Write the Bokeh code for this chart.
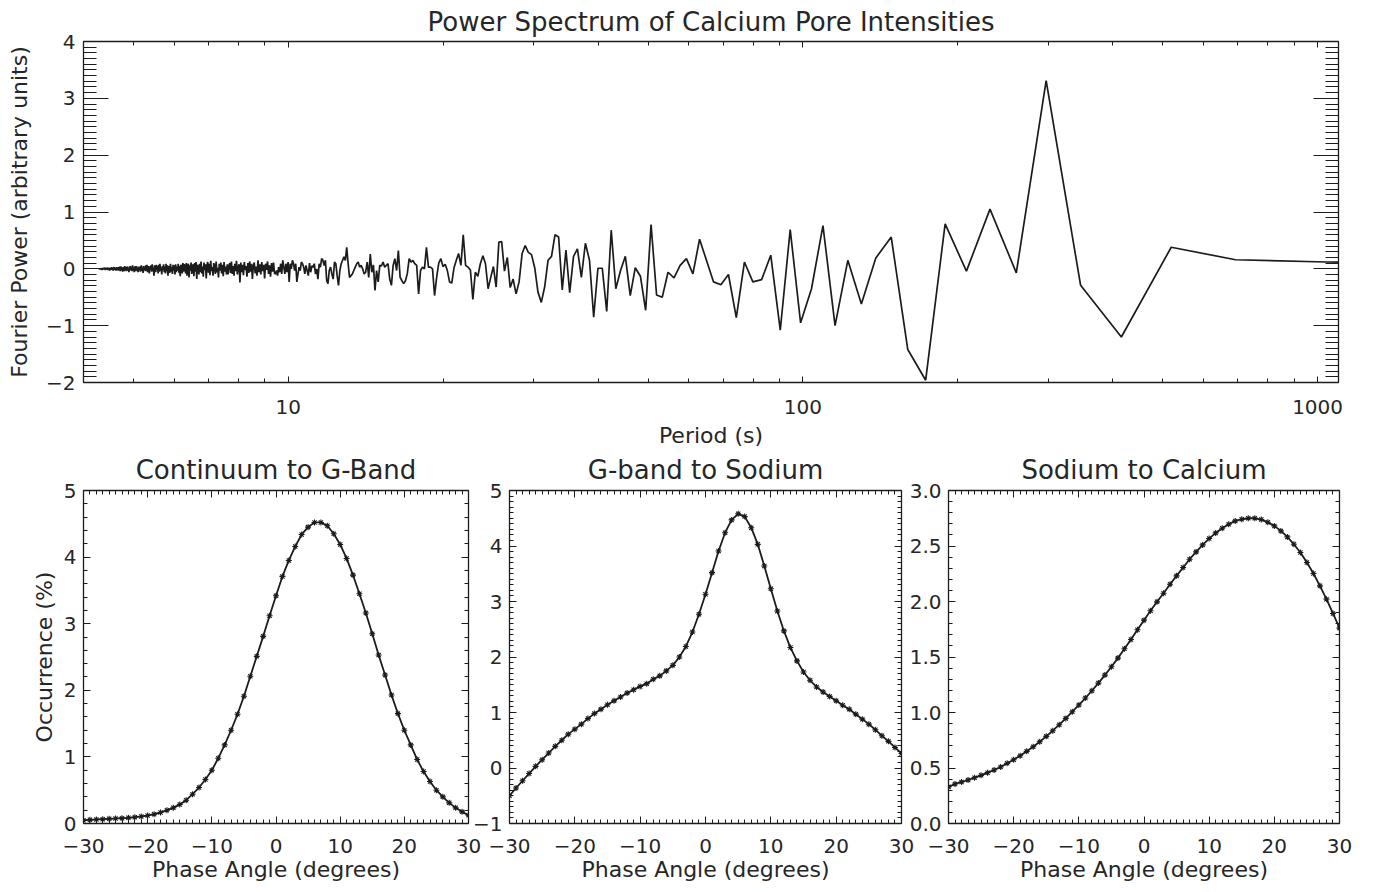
import numpy as np
from bokeh.plotting import figure
from bokeh.layouts import column, row
from bokeh.models import Range1d, FixedTicker, LinearAxis, LogAxis
from bokeh.embed import file_html
from bokeh.resources import INLINE

FONT = "DejaVu Sans"
INK = "#1c1c1c"
TEXT = "#262626"

# ---------------- data: power spectrum ----------------
record_length_s = 2078.0   # length of the time series; periods are record_length / frequency index

# Fourier power, ordered by increasing period (frequency index 484 ... 106)
power_short_periods = [
    0.01, -0.01, 0.01, -0.01, 0.00, 0.01, -0.02, 0.01, -0.01, 0.02,
    -0.01, 0.01, 0.02, -0.02, 0.01, -0.01, 0.02, 0.00, -0.02, 0.02,
    -0.01, 0.01, -0.03, 0.02, 0.01, -0.02, 0.03, -0.01, 0.02, -0.03,
    0.01, 0.03, -0.02, 0.00, 0.02, -0.03, 0.03, -0.01, 0.02, -0.03,
    0.03, -0.02, 0.04, -0.04, 0.01, 0.04, -0.03, 0.02, -0.05, 0.03,
    0.01, -0.04, 0.05, -0.02, 0.03, -0.04, 0.02, 0.04, -0.03, 0.01,
    -0.06, 0.04, -0.01, 0.05, -0.03, 0.02, -0.04, 0.06, -0.02, 0.01,
    -0.06, 0.04, 0.03, -0.04, 0.05, -0.02, 0.01, -0.06, 0.04, -0.02,
    0.04, -0.05, 0.03, 0.06, -0.04, 0.02, -0.07, 0.05, -0.02, 0.04,
    -0.04, 0.06, -0.03, 0.07, -0.06, 0.02, 0.05, -0.08, 0.04, -0.02,
    0.06, -0.05, 0.08, -0.04, 0.02, -0.12, 0.06, 0.03, -0.06, 0.07,
    -0.02, 0.05, -0.08, 0.07, -0.05, 0.09, -0.03, 0.02, -0.10, 0.05,
    -0.02, 0.08, -0.06, 0.04, -0.08, 0.09, -0.04, 0.06, -0.12, 0.05,
    0.02, -0.07, 0.09, -0.05, 0.03, -0.09, 0.07, -0.03, 0.06, -0.10,
    0.08, -0.06, 0.04, -0.03, 0.09, -0.07, 0.05, -0.13, 0.07, 0.03,
    -0.08, 0.10, -0.05, 0.08,
    0.05, -0.08, 0.10, -0.12, 0.04, 0.09, -0.15, 0.06, -0.03, 0.11,
    -0.09, 0.02, 0.08, -0.13, 0.10, -0.05, 0.12, -0.18, 0.07, 0.03,
    -0.10, 0.09, -0.06, 0.13, -0.08, 0.04, -0.14, 0.11, -0.02, 0.08,
    -0.17, 0.06, 0.12, -0.07, 0.09, -0.11, 0.14, -0.04, 0.03, -0.12,
    0.10, 0.06, -0.09, 0.13, -0.06, 0.02, -0.15, 0.09, -0.03, 0.11,
    -0.08, 0.07, -0.13, 0.12, -0.05, 0.04, -0.10, 0.08, -0.10, 0.06,
    0.10, -0.07, 0.13, -0.09, 0.05, -0.12, 0.09, -0.04, 0.14, -0.10,
    0.03, 0.08, -0.24, 0.11, -0.06, 0.07, -0.11, 0.12, -0.02, 0.05,
    -0.14, 0.10, -0.07, 0.13, -0.05, 0.09, -0.18, 0.06, 0.11, -0.08,
    0.04, -0.12, 0.15, -0.06, 0.08, -0.10, 0.12, -0.04, 0.07, -0.17,
    0.09, -0.02, 0.13, -0.09, 0.06, -0.14, 0.10, -0.05, 0.11, -0.08,
    -0.09, -0.03, -0.12, 0.03, -0.06, 0.09, -0.09, 0.15, 0.03, -0.09,
    0.09, -0.06, 0.12, -0.23, 0.09, 0.00, 0.15, 0.09, -0.03, 0.09,
    -0.23, -0.09, 0.03, -0.03, 0.12, 0.09, 0.03, -0.09, 0.06, -0.03,
    -0.12, 0.10, -0.06, 0.05,
    0.03, 0.09, -0.09, 0.00, -0.18, 0.09, 0.03, 0.18, 0.15, 0.06,
    0.15, -0.21, -0.26, -0.03, 0.03, -0.09, -0.18, 0.12, 0.09, -0.12,
    -0.29, -0.03, 0.09, 0.15, 0.21, 0.15, 0.38, 0.09, -0.15, -0.12,
    -0.09, -0.03, 0.03, 0.09, 0.12, 0.03, 0.06, 0.00, -0.09,
    -0.06, 0.12, -0.15, 0.26, -0.06, 0.07, -0.38, -0.03, -0.23, 0.06,
    0.05, 0.12, 0.03, 0.06, 0.09, -0.18, -0.29, 0.06, 0.18, -0.03,
    0.32, -0.15, -0.21, -0.26, -0.21, -0.08, 0.18, 0.12, 0.15, 0.09,
    0.06, -0.44, -0.03, 0.03, 0.00, 0.38, 0.03, 0.03, 0.00, -0.47,
    -0.15, 0.10,
]

# Fourier power for frequency index 105 ... 1
power_long_periods = [
    0.18, 0.04, 0.08, -0.03, -0.23, -0.25, 0.02, 0.15, 0.27, 0.06,
    0.60, 0.06, 0.03, -0.02, -0.54, -0.06, -0.13, 0.09, 0.23, 0.09,
    -0.35, -0.15, 0.04, -0.32, 0.47, 0.48, -0.04, 0.20, -0.33, -0.18,
    -0.44, -0.23, 0.27, 0.41, 0.29, 0.25, 0.02, -0.41, -0.59, -0.32,
    0.15, 0.22, 0.60, 0.56, -0.37, 0.33, -0.42, 0.22, 0.35, -0.15,
    0.45, 0.15, -0.85, 0.01, 0.01, -0.75, 0.68, -0.35, -0.03, 0.22,
    -0.47, 0.02, -0.13, -0.73, 0.78, -0.46, -0.50, -0.06, -0.16, 0.06,
    0.18, -0.09, 0.52, 0.15, -0.23, -0.28, -0.10, -0.86, 0.12, -0.23,
    -0.19, 0.24, -1.08, 0.69, -0.95, -0.35, 0.76, -1.00, 0.15, -0.62,
    0.19, 0.56, -1.42, -1.96, 0.79, -0.04, 1.05, -0.07, 3.31, -0.29,
    -1.20, 0.38, 0.16, 0.12, 0.10,
]

fourier_power = power_short_periods + power_long_periods
frequency_index = np.arange(len(fourier_power), 0, -1)
period_s = record_length_s / frequency_index

period_major_ticks = [10, 100, 1000]
period_tick_labels = ["10", "100", "1000"]
period_minor_ticks = [5, 6, 7, 8, 9, 20, 30, 40, 50, 60, 70, 80, 90,
                      200, 300, 400, 500, 600, 700, 800, 900]
power_major_ticks = [-2, -1, 0, 1, 2, 3, 4]
power_tick_labels = ["\u22122", "\u22121", "0", "1", "2", "3", "4"]

# ---------------- data: phase-angle histograms ----------------
phase_angle_deg = list(range(-30, 31))
continuum_to_gband = [
    0.05, 0.055, 0.06, 0.065, 0.07, 0.075, 0.08, 0.085, 0.095, 0.105,
    0.12, 0.14, 0.165, 0.20, 0.235, 0.285, 0.35, 0.44, 0.54, 0.66,
    0.80, 0.98, 1.18, 1.40, 1.64, 1.91, 2.21, 2.51, 2.81, 3.12,
    3.42, 3.71, 3.95, 4.16, 4.34, 4.45, 4.52, 4.52, 4.47, 4.35,
    4.19, 3.98, 3.73, 3.45, 3.16, 2.85, 2.53, 2.23, 1.93, 1.65,
    1.40, 1.18, 0.96, 0.78, 0.63, 0.50, 0.40, 0.31, 0.235, 0.175,
    0.125,
]
gband_to_sodium = [
    -0.50, -0.36, -0.23, -0.10, 0.03, 0.15, 0.27, 0.39, 0.50, 0.61,
    0.70, 0.79, 0.89, 0.98, 1.06, 1.14, 1.21, 1.28, 1.35, 1.41,
    1.47, 1.52, 1.60, 1.66, 1.75, 1.85, 2.00, 2.19, 2.45, 2.77,
    3.13, 3.52, 3.91, 4.24, 4.47, 4.58, 4.53, 4.33, 4.03, 3.64,
    3.23, 2.83, 2.47, 2.17, 1.93, 1.73, 1.58, 1.46, 1.37, 1.29,
    1.21, 1.13, 1.06, 0.97, 0.88, 0.79, 0.69, 0.58, 0.48, 0.37,
    0.26,
]
sodium_to_calcium = [
    0.33, 0.356, 0.374, 0.392, 0.413, 0.434, 0.458, 0.482, 0.509, 0.542,
    0.575, 0.611, 0.650, 0.692, 0.737, 0.785, 0.836, 0.890, 0.947, 1.007,
    1.067, 1.130, 1.196, 1.265, 1.337, 1.412, 1.490, 1.574, 1.658, 1.745,
    1.832, 1.916, 1.997, 2.075, 2.156, 2.231, 2.306, 2.381, 2.447, 2.510,
    2.567, 2.618, 2.660, 2.696, 2.726, 2.741, 2.750, 2.750, 2.738, 2.714,
    2.681, 2.636, 2.582, 2.516, 2.441, 2.351, 2.252, 2.141, 2.021, 1.892,
    1.760,
]

phase_major_ticks = [-30, -20, -10, 0, 10, 20, 30]
phase_tick_labels = ["\u221230", "\u221220", "\u221210", "0", "10", "20", "30"]
phase_minor_ticks = [d for d in range(-30, 31) if d % 10 != 0]

occ1_major_ticks = [0, 1, 2, 3, 4, 5]
occ1_tick_labels = ["0", "1", "2", "3", "4", "5"]
occ2_major_ticks = [-1, 0, 1, 2, 3, 4, 5]
occ2_tick_labels = ["\u22121", "0", "1", "2", "3", "4", "5"]
occ3_major_ticks = [0.0, 0.5, 1.0, 1.5, 2.0, 2.5, 3.0]
occ3_tick_labels = ["0.0", "0.5", "1.0", "1.5", "2.0", "2.5", "3.0"]


def minor_between(lo, hi, step, majors):
    n = int(round((hi - lo) / step))
    vals = [round(lo + i * step, 4) for i in range(n + 1)]
    return [v for v in vals if all(abs(v - m) > 1e-6 for m in majors)]


def style_axis(ax, major_in, minor_in, labels=None, ticks=None, size="20px", standoff=8):
    ax.axis_line_color = None
    ax.major_tick_in = major_in
    ax.major_tick_out = 0
    ax.minor_tick_in = minor_in
    ax.minor_tick_out = 0
    ax.major_tick_line_color = INK
    ax.minor_tick_line_color = INK
    ax.major_tick_line_width = 1
    ax.minor_tick_line_width = 1
    ax.major_label_text_font = FONT
    ax.major_label_text_color = TEXT
    ax.axis_label_text_font = FONT
    ax.axis_label_text_color = TEXT
    ax.axis_label_text_font_style = "normal"
    ax.axis_label_text_font_size = "22px"
    if labels is None:
        ax.major_label_text_font_size = "1px"
        ax.major_label_text_alpha = 0
        ax.major_label_standoff = 0
    else:
        ax.major_label_text_font_size = size
        ax.major_label_standoff = standoff
        ax.major_label_overrides = {t: s for t, s in zip(ticks, labels)}


def style_frame(p, standoff):
    p.grid.visible = False
    p.outline_line_color = INK
    p.outline_line_width = 1.3
    p.background_fill_color = "white"
    p.border_fill_color = None
    p.title.text_font = FONT
    p.title.text_font_size = "26px"
    p.title.text_font_style = "normal"
    p.title.text_color = TEXT
    p.title.align = "center"
    p.title.standoff = standoff


# ---------------- top panel ----------------
top = figure(x_axis_type="log", x_range=Range1d(4.0, 1098.0), y_range=Range1d(-2, 4),
             frame_width=1255, frame_height=341,
             min_border_left=83, min_border_right=20, min_border_top=38, min_border_bottom=76,
             title="Power Spectrum of Calcium Pore Intensities",
             output_backend="svg", toolbar_location=None)
style_frame(top, 9)

px_ticker = FixedTicker(ticks=period_major_ticks, minor_ticks=period_minor_ticks)
py_ticker = FixedTicker(ticks=power_major_ticks,
                        minor_ticks=minor_between(-2, 4, 0.1, power_major_ticks))
top.xaxis[0].ticker = px_ticker
top.yaxis[0].ticker = py_ticker
style_axis(top.xaxis[0], 6, 4, period_tick_labels, period_major_ticks, standoff=17)
style_axis(top.yaxis[0], 25, 13, power_tick_labels, power_major_ticks, standoff=8)
top.xaxis[0].axis_label = "Period (s)"
top.xaxis[0].axis_label_standoff = 6
top.yaxis[0].axis_label = "Fourier Power (arbitrary units)"
top.yaxis[0].axis_label_standoff = 11

ax_top = LogAxis(ticker=px_ticker)
style_axis(ax_top, 6, 4)
top.add_layout(ax_top, "above")
ax_right = LinearAxis(ticker=py_ticker)
style_axis(ax_right, 25, 13)
top.add_layout(ax_right, "right")

top.line(period_s, fourier_power, line_color=INK, line_width=1.7)


# ---------------- phase panels ----------------
def phase_panel(title, values, yr, yticks, ylabels, yminor_step, fw, left, right,
                ylabel=None):
    p = figure(x_range=Range1d(-30, 30), y_range=Range1d(*yr),
               frame_width=fw, frame_height=333,
               min_border_left=left, min_border_right=right,
               min_border_top=49, min_border_bottom=65,
               title=title, output_backend="svg", toolbar_location=None)
    style_frame(p, 11)
    xt = FixedTicker(ticks=phase_major_ticks, minor_ticks=phase_minor_ticks)
    yt = FixedTicker(ticks=yticks, minor_ticks=minor_between(yr[0], yr[1], yminor_step, yticks))
    p.xaxis[0].ticker = xt
    p.yaxis[0].ticker = yt
    style_axis(p.xaxis[0], 7, 4, phase_tick_labels, phase_major_ticks, standoff=15)
    style_axis(p.yaxis[0], 7, 4, ylabels, yticks, standoff=7)
    p.xaxis[0].axis_label = "Phase Angle (degrees)"
    p.xaxis[0].axis_label_standoff = 1
    if ylabel:
        p.yaxis[0].axis_label = ylabel
        p.yaxis[0].axis_label_standoff = 4
    a_top = LinearAxis(ticker=xt)
    style_axis(a_top, 7, 4)
    p.add_layout(a_top, "above")
    a_right = LinearAxis(ticker=yt)
    style_axis(a_right, 7, 4)
    p.add_layout(a_right, "right")
    p.line(phase_angle_deg, values, line_color=INK, line_width=1.8)
    p.scatter(phase_angle_deg, values, marker="asterisk", size=6,
              line_color=INK, line_width=1.1)
    return p


p1 = phase_panel("Continuum to G-Band", continuum_to_gband, (0, 5),
                 occ1_major_ticks, occ1_tick_labels, 0.2, 385, 83, 20,
                 ylabel="Occurrence (%)")
p2 = phase_panel("G-band to Sodium", gband_to_sodium, (-1, 5),
                 occ2_major_ticks, occ2_tick_labels, 0.1, 392, 45, 20)
p3 = phase_panel("Sodium to Calcium", sodium_to_calcium, (0, 3),
                 occ3_major_ticks, occ3_tick_labels, 0.1, 391, 50, 20)
p2.margin = (0, 0, 0, -24)
p3.margin = (0, 0, 0, -23)

bottom_row = row(p1, p2, p3)
bottom_row.margin = (-17, 0, 0, 0)

layout = column(top, bottom_row)
open("out.html", "w").write(file_html(layout, INLINE))
